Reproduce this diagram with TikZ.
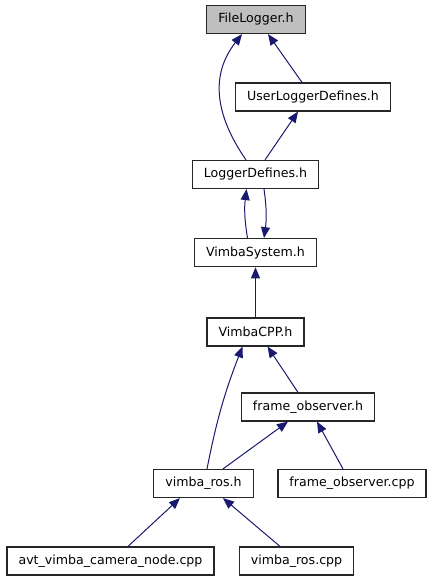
\documentclass[tikz,border=0pt]{standalone}
\usepackage{fontspec}
\setmainfont{DejaVu Sans}
\usetikzlibrary{arrows.meta, positioning}
\definecolor{edgeblue}{HTML}{191970}
\definecolor{rootgray}{HTML}{BFBFBF}

\begin{document}
\begin{tikzpicture}[
    x=1pt, y=1pt,
    every node/.style={
        draw=black!85,
        line width=1.2pt,
        align=center,
        inner xsep=11.5pt,
        minimum height=28pt,
        font=\fontsize{12.6}{14}\selectfont
    },
    arrow/.style={-{Triangle[length=11pt,width=9pt]}, edgeblue, line width=1pt}
]

\useasboundingbox (0,0) rectangle (432,-581);

% ------------------------
% Headers (top)
% ------------------------
\node[fill=rootgray] (file) at (256,-19.5) {FileLogger.h};

\node (userdef) at (313,-97) {UserLoggerDefines.h};

\node (logdef) at (255.5,-174.5) {LoggerDefines.h};

\node (vsys) [below=49pt of logdef] {VimbaSystem.h};

\node (vcpp) [below=50pt of vsys] {VimbaCPP.h};

% ------------------------
% ROS side (bottom)
% ------------------------
\node (fobsh) at (308,-407) {frame\_observer.h};

\node (vrosh) at (203.5,-483.5) {vimba\_ros.h};

\node (fobscpp) at (352,-483.5) {frame\_observer.cpp};

\node (camnode) at (110.5,-561) {avt\_vimba\_camera\_node.cpp};

\node (vroscpp) at (296.5,-561) {vimba\_ros.cpp};

% ------------------------
% Arrows
% ------------------------
\draw[arrow] ([xshift=-9.5pt]logdef.north) .. controls (215,-115) and (210,-75) .. ([xshift=-14pt]file.south);
\draw[arrow] ([xshift=-11pt]userdef.north) -- ([xshift=12pt]file.south);
\draw[arrow] ([xshift=9.5pt]logdef.north) -- ([xshift=-15pt]userdef.south);

\draw[arrow] ([xshift=-8pt]vsys.north) to[bend left=8] ([xshift=-9pt]logdef.south);
\draw[arrow] ([xshift=8.5pt]logdef.south) to[bend left=8] ([xshift=8.5pt]vsys.north);
\draw[arrow] (vcpp) -- (vsys);

\draw[arrow] ([xshift=3.5pt]vrosh.north) to[bend left=5] ([xshift=-13pt]vcpp.south);
\draw[arrow] ([xshift=-10pt]fobsh.north) -- ([xshift=12pt]vcpp.south);
\draw[arrow] ([xshift=19.5pt]vrosh.north) -- ([xshift=-20pt]fobsh.south);
\draw[arrow] ([xshift=-9pt]fobscpp.north) -- ([xshift=9pt]fobsh.south);

\draw[arrow] ([xshift=17.5pt]camnode.north) -- ([xshift=-23.5pt]vrosh.south);
\draw[arrow] ([xshift=-16.5pt]vroscpp.north) -- ([xshift=19.5pt]vrosh.south);

\end{tikzpicture}
\end{document}
